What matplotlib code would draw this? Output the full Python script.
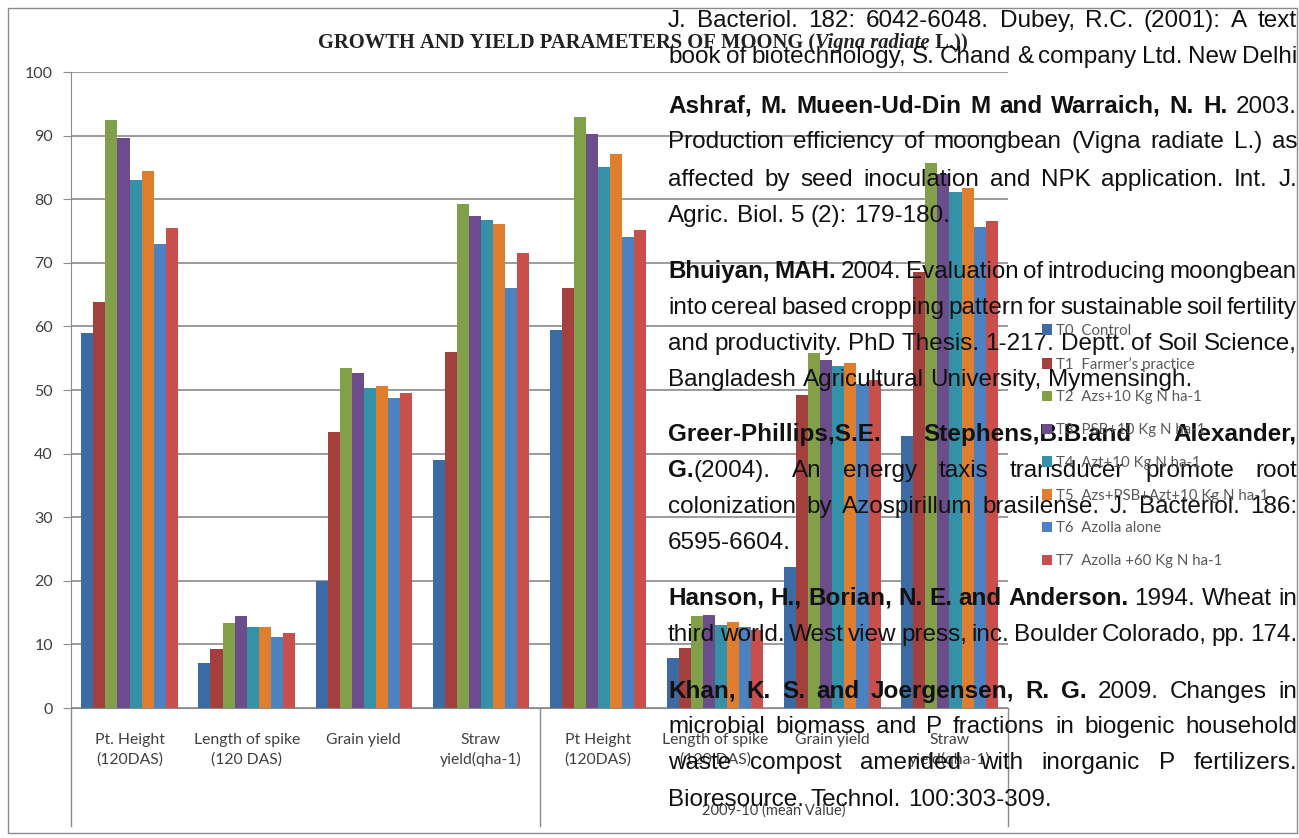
import matplotlib
matplotlib.use('Agg')
import matplotlib.pyplot as plt
from matplotlib import font_manager as fm
from matplotlib.font_manager import FontProperties
from matplotlib.patches import Rectangle
import numpy as np

W, H = 1299, 838

categories = ['Pt. Height\n(120DAS)', 'Length of spike\n(120 DAS)', 'Grain yield', 'Straw\nyield(qha-1)',
              'Pt Height\n(120DAS)', 'Length of spike\n(120 DAS)', 'Grain yield', 'Straw\nyield(qha-1)']
group_label = '2009-10 (mean Value)'
treatments = ['T0  Control', 'T1  Farmer\u2019s practice', 'T2  Azs+10 Kg N ha-1', 'T3  PSB+10 Kg N ha-1',
              'T4  Azt+10 Kg N ha-1', 'T5  Azs+PSB+Azt+10 Kg N ha-1', 'T6  Azolla alone',
              'T7  Azolla +60 Kg N ha-1']

T0 = [59.0, 7.1, 19.9, 39.0, 59.5, 7.8, 22.2, 42.7]
T1 = [63.9, 9.2, 43.4, 56.0, 66.0, 9.5, 49.2, 68.6]
T2 = [92.5, 13.3, 53.5, 79.2, 93.0, 14.4, 55.8, 85.7]
T3 = [89.6, 14.4, 52.6, 77.3, 90.3, 14.6, 54.7, 84.0]
T4 = [83.0, 12.8, 50.3, 76.7, 85.0, 13.1, 53.7, 81.2]
T5 = [84.5, 12.8, 50.7, 76.1, 87.1, 13.5, 54.3, 81.7]
T6 = [72.9, 11.2, 48.8, 66.0, 74.1, 12.8, 51.0, 75.6]
T7 = [75.4, 11.8, 49.5, 71.6, 75.2, 12.3, 51.6, 76.6]
series = [T0, T1, T2, T3, T4, T5, T6, T7]
colors = ['#3c6aa3', '#a33f3c', '#82a04a', '#6b4d8c', '#3491a7', '#de7e2e', '#4c82c0', '#c84f4c']

# text of the page that sits over the chart (** marks bold)
page_lines = [
    (18, 'J. Bacteriol.  182: 6042-6048. Dubey, R.C. (2001): A text', True, True),
    (54, 'book of biotechnology, S. Chand & company Ltd. New Delhi', True, True),
    (104, '**Ashraf, M. Mueen-Ud-Din M and Warraich, N. H.** 2003.', True, False),
    (139, 'Production efficiency of moongbean (Vigna radiate L.) as', True, False),
    (177, 'affected by seed inoculation and NPK application. Int. J.', True, False),
    (213, 'Agric. Biol. 5 (2): 179-180.', False, False),
    (269, '**Bhuiyan, MAH.** 2004. Evaluation of introducing moongbean', True, False),
    (305, 'into cereal based cropping pattern for sustainable soil fertility', True, False),
    (341, 'and productivity. PhD Thesis. 1-217. Deptt. of Soil Science,', True, False),
    (377, 'Bangladesh Agricultural University, Mymensingh.', False, False),
    (432, '**Greer-Phillips,S.E.  Stephens,B.B.and Alexander,**', True, False),
    (468, '**G.**(2004). An energy taxis transducer promote root', True, False),
    (504, 'colonization by Azospirillum brasilense. J. Bacteriol. 186:', True, False),
    (540, '6595-6604.', False, False),
    (596, '**Hanson, H., Borian, N. E. and Anderson.** 1994. Wheat in', True, True),
    (632, 'third world. West view press, inc. Boulder Colorado, pp. 174.', True, True),
    (689, '**Khan, K. S. and Joergensen, R. G.** 2009. Changes in', True, True),
    (724, 'microbial biomass and P fractions in biogenic household', True, True),
    (760, 'waste compost amended with inorganic P fertilizers.', True, True),
    (797, 'Bioresource. Technol. 100:303-309.', False, True),
]

ui_font = 'Lato'
grey = '#404040'

try:
    fm.findfont(FontProperties(family='Liberation Sans Narrow'), fallback_to_default=False)
    narrow_family = 'Liberation Sans Narrow'
except ValueError:
    narrow_family = 'Liberation Sans'

fig = plt.figure(figsize=(W / 100, H / 100), dpi=100)
fig.patches.append(Rectangle((8 / W, 1 - 833 / H), 1289 / W, 825 / H, transform=fig.transFigure,
                             fill=False, edgecolor='#8c8c8c', lw=1.0))

ax = fig.add_axes([71 / W, (H - 708) / H, (1008 - 71) / W, (708 - 72) / H])
x = np.arange(len(categories))
bw = 0.103
bars = []
for i, vals in enumerate(series):
    b = ax.bar(x + (i - 3.5) * bw, vals, bw, color=colors[i], label=treatments[i], zorder=2)
    bars.append(b)

ax.set_xlim(-0.5, 7.5)
ax.set_ylim(0, 100)
ax.set_yticks(range(0, 101, 10))
ax.yaxis.grid(True, color='#8a8a8a', lw=1.2, zorder=0)
ax.set_axisbelow(True)
for s in ['top', 'right']:
    ax.spines[s].set_visible(False)
ax.spines['left'].set_color('#8a8a8a')
ax.spines['bottom'].set_color('#8a8a8a')
ax.tick_params(axis='y', length=6, color='#8a8a8a', pad=7, labelsize=11.5, labelcolor=grey)
for lab in ax.get_yticklabels():
    lab.set_family(ui_font)
ax.set_xticks(x)
ax.set_xticklabels(categories, fontsize=11.3, color=grey, family=ui_font, linespacing=1.45)
ax.tick_params(axis='x', length=0, pad=18)

# multi-level category axis lines
tr = ax.get_xaxis_transform()
depth = -(826 - 708) / (708 - 72)
for xv in [-0.5, 3.5, 7.5]:
    ax.plot([xv, xv], [0, depth], transform=tr, color='#8a8a8a', lw=1.0, clip_on=False)
ax.text(5.5, -(811 - 708) / (708 - 72), group_label, transform=tr, ha='center', va='center',
        fontsize=10.5, color=grey, family=ui_font)

fig.legend(handles=bars, labels=treatments, loc='center left', bbox_to_anchor=(1034 / W, 1 - 446 / H),
           frameon=False, borderpad=0, handlelength=0.7, handleheight=0.7, handletextpad=0.3,
           labelspacing=1.25, prop=FontProperties(family=ui_font, size=10.8), labelcolor='#595959')

renderer = fig.canvas.get_renderer()


def measure(s, fp):
    t = fig.text(0, 0, s, fontproperties=fp)
    w = t.get_window_extent(renderer).width
    t.remove()
    return w


def put(xp, yp, s, fp, color='#111111'):
    fig.text(xp / W, 1 - yp / H, s, fontproperties=fp, ha='left', va='baseline', color=color)


# title in mixed styles, centred
title_runs = [('GROWTH AND YIELD PARAMETERS OF MOONG (', 'normal'), ('Vigna radiate', 'italic'), (' L.))', 'normal')]
tfp = [FontProperties(family='Liberation Serif', weight='bold', style=st, size=14.8) for _, st in title_runs]
widths = [measure(s.replace(' ', '\u00a0'), f) for (s, _), f in zip(title_runs, tfp)]
xp = 643 - sum(widths) / 2
for (s, _), f, w in zip(title_runs, tfp, widths):
    put(xp, 48, s.replace(' ', '\u00a0'), f, color='#222222')
    xp += w


def words_of(markup):
    parts = markup.split('**')
    words = [[]]
    for k, part in enumerate(parts):
        bold = k % 2 == 1
        for j, p in enumerate(part.split(' ')):
            if j > 0:
                words.append([])
            if p:
                words[-1].append((p, bold))
    return [w for w in words if w]


x0, x1 = 668, 1297
ref = FontProperties(family='Liberation Sans', size=10)
body_size = 10 * 525 / measure('Bangladesh Agricultural University, Mymensingh.', ref)

for yc, markup, justify, narrow in page_lines:
    fam = narrow_family if narrow else 'Liberation Sans'
    size = body_size
    words = words_of(markup)
    for attempt in range(2):
        fps = {b: FontProperties(family=fam, size=size, weight='bold' if b else 'normal') for b in (False, True)}
        space = measure('x x', fps[False]) - measure('xx', fps[False])
        wlist = [[(s, b, measure(s, fps[b])) for s, b in w] for w in words]
        total = sum(sum(m for _, _, m in w) for w in wlist)
        natural = total + space * 0.6 * (len(words) - 1)
        if natural > x1 - x0:
            size *= (x1 - x0) / natural
        else:
            break
    gap = (x1 - x0 - total) / (len(words) - 1) if justify and len(words) > 1 else space
    base = yc + 0.36 * size * 100 / 72
    xp = x0
    for w in wlist:
        for s, b, m in w:
            put(xp, base, s, fps[b])
            xp += m
        xp += gap

fig.savefig('out.png', dpi=100)
